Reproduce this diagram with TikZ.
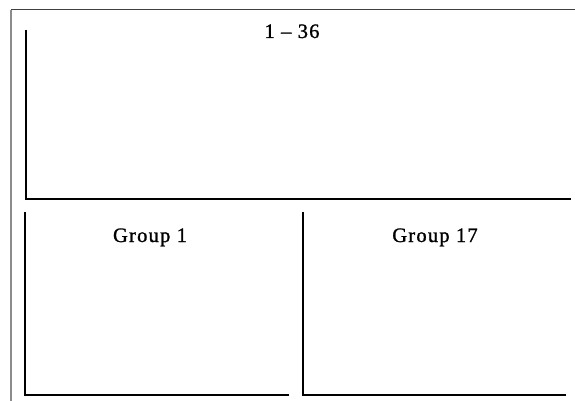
\documentclass[tikz,border=0pt]{standalone}
\usepackage{fontspec}
\setmainfont[LetterSpace=6,FakeBold=1.2]{Liberation Serif}
\begin{document}
\begin{tikzpicture}[x=1pt,y=-1pt,
  axisline/.style={line width=2pt,black,line cap=rect},
  lbl/.style={font=\fontsize{20.5}{22}\selectfont,anchor=base,inner sep=0pt}]
\useasboundingbox (0,0) rectangle (575,401);
\fill[white] (0,0) rectangle (575,401);
% outer frame
\coordinate (ftl) at (11,10);
\coordinate (ftr) at (575,10);
\coordinate (fbl) at (11,401);
\draw[line width=1pt,black!75] (ftl) -- (ftr);
\draw[line width=1.2pt,black!45] (ftl) -- (fbl);
% top chart axes
\coordinate (a1) at (26,31);
\coordinate (a0) at (26,199);
\coordinate (a2) at (570,199);
\draw[axisline] (a1) -- (a0) -- (a2);
% bottom left
\coordinate (b1) at (25,213);
\coordinate (b0) at (25,395);
\coordinate (b2) at (288,395);
\draw[axisline] (b1) -- (b0) -- (b2);
% bottom right
\coordinate (c1) at (303,213);
\coordinate (c0) at (303,395);
\coordinate (c2) at (565,395);
\draw[axisline] (c1) -- (c0) -- (c2);
% labels
\node[lbl] (t1) at (292,38) {1 – 36};
\node[lbl] (t2) at (150,242) {Group 1};
\node[lbl] (t3) at (435,242) {Group 17};
\end{tikzpicture}
\end{document}
